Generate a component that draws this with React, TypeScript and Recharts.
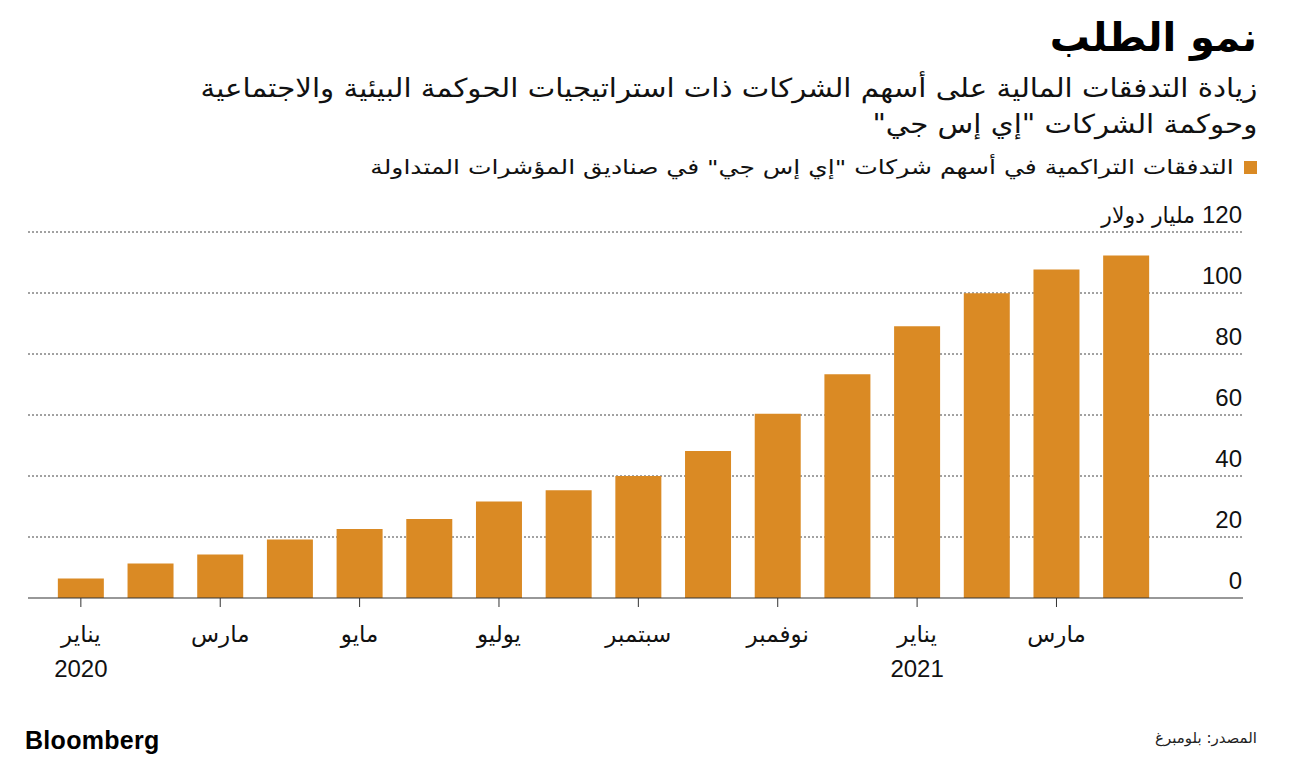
import React from "react";
import { BarChart, Bar, XAxis, YAxis, CartesianGrid } from "recharts";

const months = ["يناير", "فبراير", "مارس", "أبريل", "مايو", "يونيو", "يوليو", "أغسطس", "سبتمبر", "أكتوبر", "نوفمبر", "ديسمبر", "يناير", "فبراير", "مارس", "أبريل"];
const years = ["2020", "", "", "", "", "", "", "", "", "", "", "", "2021", "", "", ""];
const inflows = [6.4, 11.3, 14.3, 19.2, 22.6, 25.9, 31.6, 35.3, 40.0, 48.2, 60.4, 73.4, 89.1, 99.9, 107.7, 112.3];
const yTicks = [0, 20, 40, 60, 80, 100, 120];
const yUnit = "مليار دولار";

const title = "نمو الطلب";
const subtitle1 = "زيادة التدفقات المالية على أسهم الشركات ذات استراتيجيات الحوكمة البيئية والاجتماعية";
const subtitle2 = "وحوكمة الشركات \"إي إس جي\"";
const legendText = "التدفقات التراكمية في أسهم شركات \"إي إس جي\" في صناديق المؤشرات المتداولة";
const source = "المصدر: بلومبرغ";

const BAR_COLOR = "#DA8A24";
const FONT = "'Liberation Sans', Arial, 'DejaVu Sans', sans-serif";
const AR_FONT = "'DejaVu Sans', sans-serif";

const data = months.map((m, i) => ({ month: m, year: years[i], value: inflows[i], key: i }));

const XTick = (props: any) => {
  const { x, y, payload } = props;
  const idx = typeof payload.value === "number" ? payload.value : payload.index;
  const item = data[idx];
  return (
    <g>
      <text x={x} y={y + 33} textAnchor="middle" fontSize={23} fill="#111" fontFamily={AR_FONT}>
        {item ? item.month : ""}
      </text>
      {item && item.year ? (
        <text x={x} y={y + 68} textAnchor="middle" fontSize={24} fill="#111" fontFamily={FONT}>
          {item.year}
        </text>
      ) : null}
    </g>
  );
};

const YTick = (props: any) => {
  const { x, y, payload } = props;
  const isTop = payload.value === yTicks[yTicks.length - 1];
  return (
    <text x={x - 1} y={y - 9} textAnchor="end" fill="#111" fontFamily={FONT} fontSize={24}>
      {isTop ? (
        <>
          <tspan>{"\u200F" + payload.value}</tspan>
          <tspan fontFamily={AR_FONT} fontSize={22}>{" " + yUnit}</tspan>
        </>
      ) : (
        String(payload.value)
      )}
    </text>
  );
};

export default function App() {
  return (
    <div style={{ position: "absolute", left: 0, top: 0, width: 1294, height: 764, background: "#fff", overflow: "hidden" }}>
      <div dir="rtl" style={{ position: "absolute", right: 37, top: 10, fontFamily: AR_FONT, fontWeight: 700, fontSize: 40, color: "#000", whiteSpace: "nowrap", lineHeight: "54px" }}>
        {title}
      </div>
      <div dir="rtl" style={{ position: "absolute", right: 37, top: 70, fontFamily: AR_FONT, fontSize: 26, color: "#111", whiteSpace: "nowrap", lineHeight: "36px", transform: "scaleX(1.125)", transformOrigin: "right center" }}>
        <div>{subtitle1}</div>
        <div>{subtitle2}</div>
      </div>
      <div dir="rtl" style={{ position: "absolute", right: 37, top: 152, fontFamily: AR_FONT, fontSize: 20, color: "#111", whiteSpace: "nowrap", lineHeight: "30px", display: "flex", alignItems: "center" }}>
        <span style={{ display: "inline-block", width: 13, height: 13, background: BAR_COLOR, marginLeft: 10 }} />
        <span style={{ display: "inline-block", transform: "scaleX(1.25)", transformOrigin: "right center" }}>{legendText}</span>
      </div>
      <div style={{ position: "absolute", left: 0, top: 0 }}>
        <BarChart width={1294} height={764} data={data} margin={{ top: 232, right: 1, bottom: 106, left: 28 }} barCategoryGap="17%">
          <CartesianGrid horizontal={true} vertical={false} stroke="#444" strokeDasharray="2 2" horizontalValues={yTicks.filter((v) => v > 0)} />
          <XAxis
            dataKey="key"
            type="category"
            interval={1}
            height={60}
            padding={{ left: 18, right: 82 }}
            axisLine={{ stroke: "#333", strokeWidth: 1.2 }}
            tickLine={{ stroke: "#333" }}
            tickSize={9}
            tick={<XTick />}
          />
          <YAxis
            orientation="right"
            width={50}
            domain={[0, 120]}
            ticks={yTicks}
            axisLine={false}
            tickLine={false}
            tickSize={0}
            tickMargin={0}
            tick={<YTick />}
          />
          <Bar dataKey="value" fill={BAR_COLOR} isAnimationActive={false} />
        </BarChart>
      </div>
      <div style={{ position: "absolute", left: 25, top: 726, fontFamily: FONT, fontWeight: 700, fontSize: 25, color: "#000", letterSpacing: 0.3 }}>
        Bloomberg
      </div>
      <div dir="rtl" style={{ position: "absolute", right: 37, top: 729, fontFamily: AR_FONT, fontSize: 15, color: "#222", whiteSpace: "nowrap" }}>
        {source}
      </div>
    </div>
  );
}
